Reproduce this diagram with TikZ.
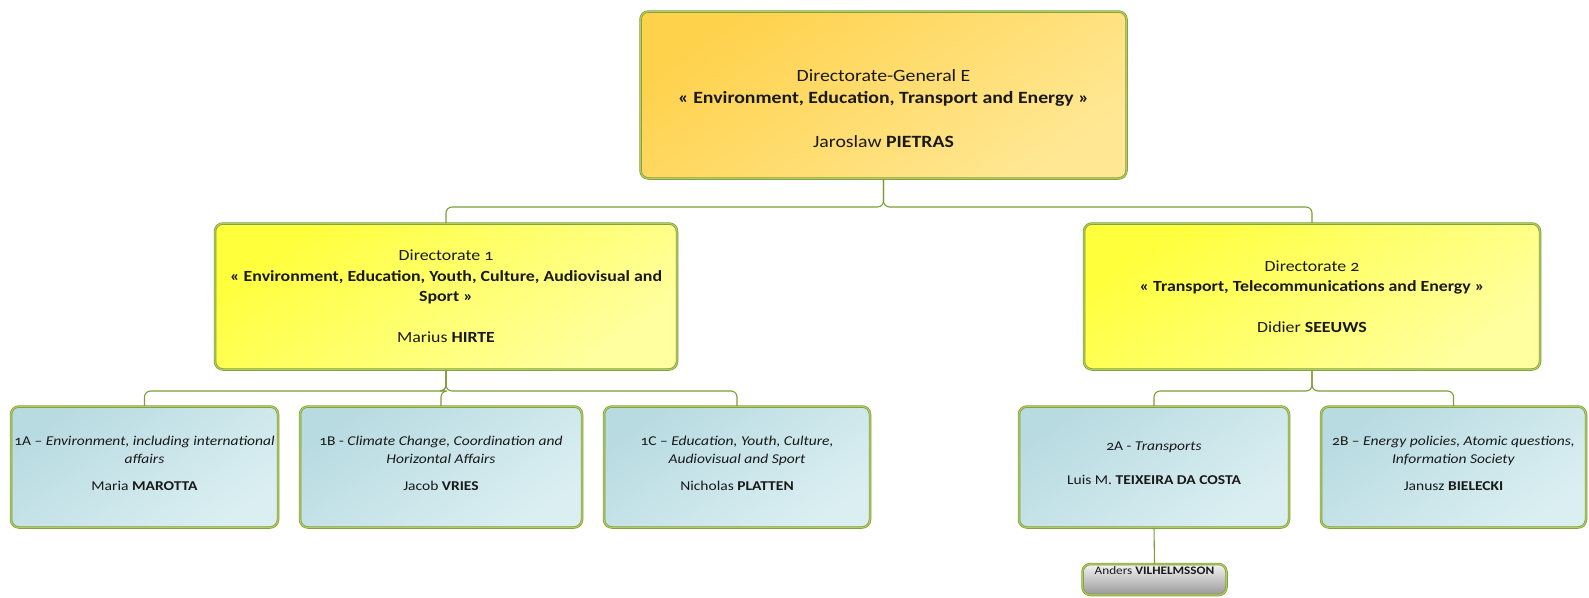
\documentclass[tikz,border=0pt]{standalone}
\usepackage{fontspec}
\setmainfont{Carlito}[Numbers=OldStyle, FakeStretch=1.15]
\usepackage{xcolor}
\usepackage{tikz}

\definecolor{dgtop}{HTML}{FFD24C}
\definecolor{dgbot}{HTML}{FFE793}
\definecolor{dirtop}{HTML}{FFFF3C}
\definecolor{dirbot}{HTML}{FFFFA0}
\definecolor{unittop}{HTML}{B8DBE1}
\definecolor{unitbot}{HTML}{DBEFF2}
\definecolor{greytop}{HTML}{F4F4F4}
\definecolor{greybot}{HTML}{989898}
\definecolor{linegreen}{HTML}{7E9D38}
\definecolor{rimgreen}{HTML}{B3CB62}

\begin{document}
\begin{tikzpicture}[
  x=1pt, y=-1pt,
  orgbox/.style={rounded corners=8pt, draw=linegreen, line width=0.7pt,
    double=rimgreen, double distance=1.1pt, align=center, inner sep=0pt,
    text=black!90},
  dgbox/.style={orgbox, top color=dgtop, bottom color=dgbot, shading angle=35,
    minimum width=486pt, minimum height=167pt, font=\fontsize{17.2}{22}\selectfont},
  dirbox/.style={orgbox, top color=dirtop, bottom color=dirbot, shading angle=35,
    minimum height=146pt, font=\fontsize{15.5}{20.5}\selectfont},
  unitbox/.style={orgbox, top color=unittop, bottom color=unitbot, shading angle=35,
    minimum height=121pt, font=\fontsize{13.5}{18}\selectfont},
  greybox/.style={orgbox, top color=greytop, bottom color=greybot,
    minimum width=144pt, minimum height=31pt, font=\fontsize{11.5}{12}\selectfont},
  link/.style={draw=linegreen, line width=1.1pt, rounded corners=6pt}]

\useasboundingbox (0,0) rectangle (1589,597);

% director-general
\node[dgbox] (dg) at (883.5,95)
  {\rule{0pt}{40pt}Directorate-General E\\
   \textbf{« Environment, Education, Transport and Energy »}\\[22pt]
   Jaroslaw \textbf{PIETRAS}};

% directorates
\node[dirbox, minimum width=462pt] (dir1) at (446,296.5)
  {Directorate 1\\
   \textbf{« Environment, Education, Youth, Culture, Audiovisual and}\\
   \textbf{Sport »}\\[20.5pt]
   Marius \textbf{HIRTE}};
\node[dirbox, minimum width=456pt] (dir2) at (1312,296.5)
  {Directorate 2\\
   \textbf{« Transport, Telecommunications and Energy »}\\[20.5pt]
   Didier \textbf{SEEUWS}};

% units
\node[unitbox, minimum width=267pt] (u1a) at (144.5,467)
  {1A -- \textit{Environment, including international}\\
   \textit{affairs}\\[9pt]
   Maria \textbf{MAROTTA}\rule[-8pt]{0pt}{0pt}};
\node[unitbox, minimum width=282pt] (u1b) at (441,467)
  {1B - \textit{Climate Change, Coordination and}\\
   \textit{Horizontal Affairs}\\[9pt]
   Jacob \textbf{VRIES}\rule[-8pt]{0pt}{0pt}};
\node[unitbox, minimum width=266pt] (u1c) at (737,467)
  {1C -- \textit{Education, Youth, Culture,}\\
   \textit{Audiovisual and Sport}\\[9pt]
   Nicholas \textbf{PLATTEN}\rule[-8pt]{0pt}{0pt}};
\node[unitbox, minimum width=270pt] (u2a) at (1154,467)
  {2A - \textit{Transports}\\[16pt]
   Luis M. \textbf{TEIXEIRA DA COSTA}\rule[-8pt]{0pt}{0pt}};
\node[unitbox, minimum width=265pt] (u2b) at (1453.5,467)
  {2B -- \textit{Energy policies, Atomic questions,}\\
   \textit{Information Society}\\[9pt]
   Janusz \textbf{BIELECKI}\rule[-8pt]{0pt}{0pt}};

\node[greybox] (vil) at (1154.5,579.5)
  {Anders \textbf{VILHELMSSON}\\[6pt]\mbox{}};

% connectors
\coordinate (bus0) at (0,207);
\coordinate (bus1) at (0,391);

\draw[link] (dg.south) -- (dg.south |- bus0) -| (dir1.north);
\draw[link] (dg.south) -- (dg.south |- bus0) -| (dir2.north);

\draw[link] (dir1.south) -- (dir1.south |- bus1) -| (u1a.north);
\draw[link] (dir1.south) -- (dir1.south |- bus1) -| (u1b.north);
\draw[link] (dir1.south) -- (dir1.south |- bus1) -| (u1c.north);

\draw[link] (dir2.south) -- (dir2.south |- bus1) -| (u2a.north);
\draw[link] (dir2.south) -- (dir2.south |- bus1) -| (u2b.north);

\draw[link] (u2a.south) -- (vil.north);
\end{tikzpicture}
\end{document}
